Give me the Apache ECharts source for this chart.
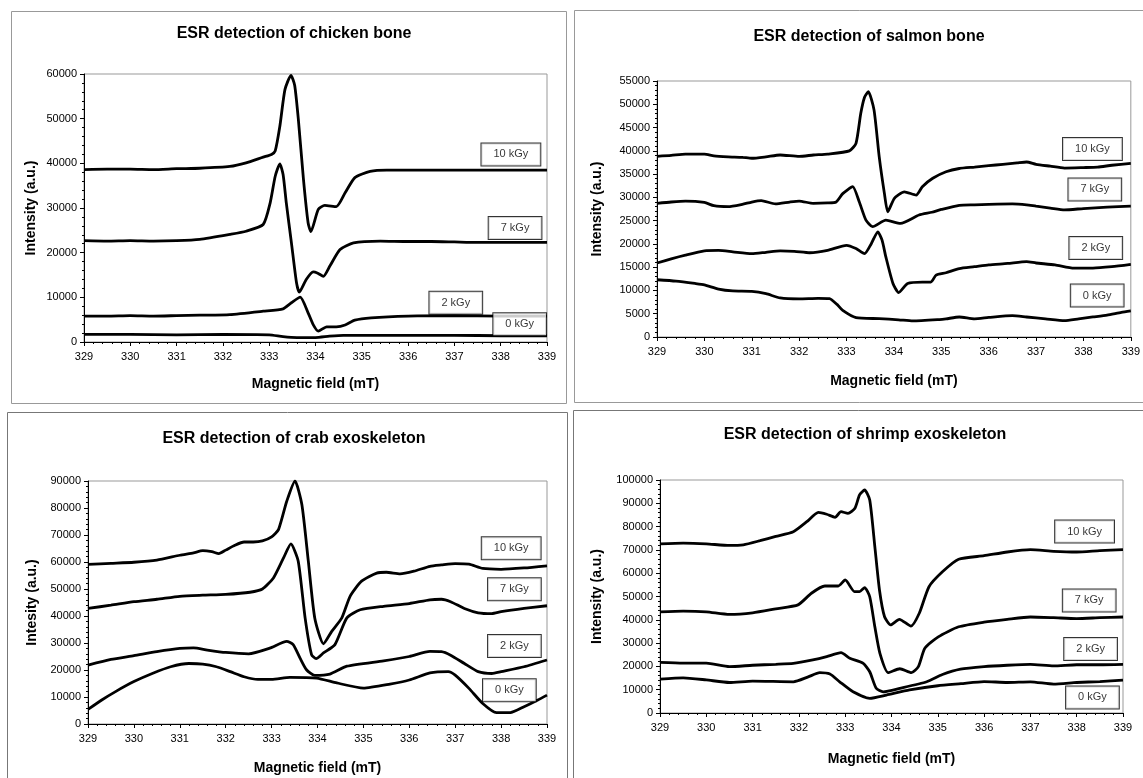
<!DOCTYPE html>
<html>
<head>
<meta charset="utf-8">
<title>ESR detection</title>
<script src="https://cdn.jsdelivr.net/npm/echarts@6/dist/echarts.min.js"></script>
<style>
  html, body { margin: 0; padding: 0; background: #fff; }
  #chart { width: 1143px; height: 778px; }
</style>
</head>
<body>
<div id="chart"></div>
<script>
// dose labels shown in the boxes
const doses = ['10 kGy', '7 kGy', '2 kGy', '0 kGy']

// chicken bone, [field mT, intensity]
const chicken10 = [[329,38600],[329.5,38700],[330,38700],[330.5,38600],[331,38800],[331.5,38900],[332.15,39300],[332.5,40100],[332.87,41400],[333.05,42000],[333.13,42800],[333.23,48300],[333.34,56500],[333.47,59700],[333.55,57500],[333.63,49800],[333.74,36400],[333.84,26700],[333.9,24700],[334.06,29700],[334.2,30600],[334.45,30300],[334.64,33400],[334.85,36800],[335.18,38200],[335.54,38500],[336,38500],[336.5,38500],[337,38500],[337.5,38500],[338,38500],[338.5,38500],[339,38500]]
const chicken7 = [[329,22700],[329.5,22600],[330,22700],[330.5,22600],[331,22700],[331.5,23000],[332.15,24100],[332.5,24800],[332.87,26300],[333.02,31100],[333.13,37100],[333.23,39900],[333.3,37500],[333.37,31100],[333.48,22200],[333.59,13250],[333.65,11150],[333.8,14000],[333.95,15700],[334.05,15400],[334.17,14700],[334.31,17000],[334.53,20700],[334.82,22200],[335.4,22600],[336,22500],[336.5,22500],[337,22400],[337.5,22300],[338,22300],[338.5,22300],[339,22300]]
const chicken2 = [[329,5800],[329.5,5800],[330,5900],[330.5,5800],[331,5900],[331.5,6000],[332.15,6150],[332.87,6900],[333.3,7430],[333.48,8780],[333.67,10030],[333.84,6530],[333.95,3900],[334.06,2420],[334.24,3400],[334.45,3400],[334.64,3800],[334.85,4880],[335.2,5400],[336,5800],[337,5900],[338,5800],[339,5800]]
const chicken0 = [[329,1700],[330,1700],[331,1600],[332,1700],[333,1600],[333.3,1200],[333.6,1000],[334,1000],[334.3,1300],[334.6,1500],[335,1500],[336,1500],[337,1500],[338,1400],[339,1400]]

// salmon bone
const salmon10 = [[329,38800],[329.3,39000],[329.6,39300],[330,39300],[330.2,38900],[330.5,38700],[330.8,38600],[331,38400],[331.3,38700],[331.6,39100],[332,38800],[332.3,39100],[332.6,39300],[333.06,40000],[333.2,41600],[333.3,48000],[333.38,51500],[333.46,52700],[333.58,48800],[333.69,38700],[333.8,30800],[333.87,26900],[334.01,29800],[334.22,31200],[334.47,30500],[334.6,32300],[334.82,34100],[335.1,35500],[335.38,36200],[335.7,36500],[336,36800],[336.3,37100],[336.6,37400],[336.8,37600],[337,37100],[337.3,36700],[337.6,36300],[338,36400],[338.3,36500],[338.6,36900],[339,37300]]
const salmon7 = [[329,28700],[329.3,29000],[329.6,29200],[330,28900],[330.2,28200],[330.5,28000],[330.8,28500],[331,29000],[331.2,29300],[331.5,28600],[331.8,29000],[332,29200],[332.3,28700],[332.6,28800],[332.78,29000],[332.92,30800],[333.13,32300],[333.27,29000],[333.41,25100],[333.55,23700],[333.83,25100],[334.14,24400],[334.53,26200],[334.8,26800],[335,27400],[335.38,28300],[335.7,28400],[336,28500],[336.5,28600],[336.8,28400],[337,28100],[337.3,27700],[337.6,27300],[338,27600],[338.5,27900],[339,28100]]
const salmon2 = [[329,15900],[329.3,16800],[329.6,17600],[330,18500],[330.3,18600],[330.6,18300],[331,17900],[331.3,18200],[331.6,18500],[331.9,18400],[332.22,18100],[332.6,18600],[333,19700],[333.2,19000],[333.38,17900],[333.52,20000],[333.66,22600],[333.75,20800],[333.83,17200],[333.98,11500],[334.1,9550],[334.29,11500],[334.6,11800],[334.78,11800],[334.89,13300],[335.1,13800],[335.38,14700],[335.7,15100],[336,15500],[336.4,15800],[336.8,16200],[337,15900],[337.4,15500],[337.8,14800],[338.2,14800],[338.6,15100],[339,15600]]
const salmon0 = [[329,12300],[329.4,12000],[329.8,11500],[330,11200],[330.3,10300],[330.6,9900],[331,9800],[331.3,9300],[331.6,8400],[332,8200],[332.4,8300],[332.64,8250],[332.8,7000],[332.92,5700],[333.2,4150],[333.69,3950],[334.1,3700],[334.4,3450],[334.96,3750],[335.1,3900],[335.38,4300],[335.7,3900],[336,4200],[336.5,4600],[336.8,4300],[337.2,3900],[337.6,3500],[337.9,3900],[338.2,4300],[338.5,4700],[338.8,5300],[339,5600]]

// crab exoskeleton
const crab10 = [[329,59100],[329.5,59500],[330,59900],[330.5,60700],[331,62500],[331.3,63400],[331.5,64200],[331.7,63800],[331.85,63100],[332,64400],[332.2,66200],[332.4,67400],[332.6,67400],[332.8,67800],[333,69300],[333.15,72000],[333.33,82500],[333.51,90000],[333.66,81200],[333.8,60300],[333.94,39300],[334.13,29700],[334.31,34300],[334.53,39300],[334.71,47300],[334.96,52900],[335.29,55900],[335.5,56200],[335.8,55600],[336.1,56600],[336.45,58400],[336.7,58900],[337,59400],[337.3,59200],[337.6,57600],[338,57300],[338.5,57800],[339,58600]]
const crab7 = [[329,42800],[329.5,44000],[330,45300],[330.5,46200],[331,47300],[331.5,47700],[332,48000],[332.53,48800],[332.8,50000],[333.04,54100],[333.26,61500],[333.42,66700],[333.58,60300],[333.73,39300],[333.87,25700],[333.97,24200],[334.13,26300],[334.38,29400],[334.64,39300],[334.93,42300],[335.44,43600],[336,44600],[336.45,46000],[336.7,46200],[336.9,45300],[337.2,42800],[337.5,41200],[337.8,40900],[338,41600],[338.5,42800],[339,43800]]
const crab2 = [[329,21800],[329.5,23900],[330,25300],[330.5,26800],[331,28000],[331.3,28200],[331.6,27400],[332,26500],[332.5,26000],[332.96,28100],[333.33,30600],[333.47,29400],[333.62,24400],[333.76,20100],[333.94,18000],[334.27,18500],[334.64,21400],[335.44,23400],[336,25000],[336.45,26900],[336.7,26800],[336.9,25500],[337.2,22400],[337.5,19400],[337.8,18700],[338,19400],[338.5,21200],[339,23700]]
const crab0 = [[329,5400],[329.3,8900],[329.6,12000],[330,15700],[330.4,18700],[330.8,21200],[331.2,22400],[331.5,22200],[331.8,21200],[332.1,19400],[332.4,17500],[332.7,16500],[333,16500],[333.4,17300],[333.98,17000],[334.42,15200],[335,13300],[335.58,14800],[336,16300],[336.45,18900],[336.85,19400],[337,18100],[337.3,13200],[337.6,7600],[337.9,4200],[338.2,4200],[338.5,6400],[338.8,8900],[339,10700]]

// shrimp exoskeleton
const shrimp10 = [[329,72600],[329.5,72900],[330,72600],[330.5,71900],[330.8,72200],[331.16,73950],[331.5,75800],[331.88,77800],[332.17,82100],[332.42,86100],[332.6,85300],[332.78,84000],[332.91,86400],[333.06,85700],[333.21,87900],[333.31,93600],[333.42,95700],[333.53,91400],[333.64,71400],[333.74,52800],[333.85,41300],[333.98,37800],[334.17,40200],[334.42,37300],[334.6,42800],[334.81,54200],[335.1,60600],[335.45,66000],[336,67500],[336.5,69100],[337,70100],[337.5,69400],[338,69100],[338.5,69700],[339,70100]]
const shrimp7 = [[329,43400],[329.5,43700],[330,43400],[330.5,42300],[331,43000],[331.5,44700],[331.98,46400],[332.27,51400],[332.56,54500],[332.85,54500],[333,57100],[333.2,52100],[333.31,52100],[333.42,53800],[333.53,49900],[333.64,37000],[333.75,25600],[333.93,17300],[334.18,19000],[334.43,17300],[334.58,19900],[334.72,27800],[335.01,32700],[335.45,37000],[336,39000],[336.5,40200],[337,41200],[337.5,40900],[338,40500],[338.5,40900],[339,41200]]
const shrimp2 = [[329,21700],[329.5,21400],[330,21400],[330.5,19900],[331,20500],[331.5,20900],[331.88,21300],[332.3,22800],[332.6,24200],[332.91,25900],[333.1,23500],[333.39,21300],[333.53,17700],[333.67,10600],[333.82,9100],[334.18,10600],[334.76,13400],[335.1,16500],[335.49,18800],[336,19900],[336.5,20500],[337,20900],[337.5,20200],[338,20700],[338.5,20700],[339,20900]]
const shrimp0 = [[329,14500],[329.5,15100],[330,14200],[330.5,13100],[331,13700],[331.88,13400],[332.2,15500],[332.45,17300],[332.67,16700],[332.88,13400],[333.17,9100],[333.53,6300],[333.89,7700],[334.39,9900],[335,11700],[335.5,12600],[336,13500],[336.5,13100],[337,13400],[337.5,12400],[338,13100],[338.5,13500],[339,14100]]

// where each dose box sits, [field mT, intensity]
const chickenBoxes = [[338.22,42000],[338.31,25500],[337.03,8800],[338.41,4000]]
const salmonBoxes = [[338.19,40400],[338.24,31700],[338.26,19100],[338.29,8900]]
const crabBoxes = [[338.22,65100],[338.29,49900],[338.29,28900],[338.18,12500]]
const shrimpBoxes = [[338.17,77900],[338.27,48300],[338.30,27500],[338.34,6700]]

const font = 'Liberation Sans, Arial, sans-serif'

const panels = [
  { title: 'ESR detection of chicken bone', yName: 'Intensity (a.u.)', max: 60000, step: 10000, curves: [chicken10, chicken7, chicken2, chicken0], boxes: chickenBoxes,
    grid: { left: 84, top: 74, width: 463, height: 268 }, titleX: 289, titleY: 21, yGap: 46, xGap: 35 },
  { title: 'ESR detection of salmon bone', yName: 'Intensity (a.u.)', max: 55000, step: 5000, curves: [salmon10, salmon7, salmon2, salmon0], boxes: salmonBoxes,
    grid: { left: 657, top: 81, width: 475, height: 256 }, titleX: 864, titleY: 24, yGap: 53, xGap: 37 },
  { title: 'ESR detection of crab exoskeleton', yName: 'Intesity (a.u.)', max: 90000, step: 10000, curves: [crab10, crab7, crab2, crab0], boxes: crabBoxes,
    grid: { left: 88, top: 481, width: 459, height: 243 }, titleX: 289, titleY: 426, yGap: 49, xGap: 37 },
  { title: 'ESR detection of shrimp exoskeleton', yName: 'Intensity (a.u.)', max: 100000, step: 10000, curves: [shrimp10, shrimp7, shrimp2, shrimp0], boxes: shrimpBoxes,
    grid: { left: 660, top: 480, width: 463, height: 233 }, titleX: 860, titleY: 422, yGap: 56, xGap: 39 }
]

const option = {
  backgroundColor: '#fff',
  animation: false,
  title: panels.map(p => ({
    text: p.title, left: p.titleX, top: p.titleY, textAlign: 'center',
    textStyle: { fontFamily: font, fontSize: 16, fontWeight: 'bold', color: '#000' }
  })),
  grid: panels.map(p => Object.assign({ show: true, borderColor: '#999', borderWidth: 1, backgroundColor: '#fff' }, p.grid)),
  xAxis: panels.map((p, i) => ({
    type: 'value', gridIndex: i, min: 329, max: 339, interval: 1,
    name: 'Magnetic field (mT)', nameLocation: 'middle', nameGap: p.xGap,
    nameTextStyle: { fontFamily: font, fontSize: 14, fontWeight: 'bold', color: '#000' },
    axisLine: { onZero: false, lineStyle: { color: '#000', width: 1 } },
    axisTick: { length: 4, lineStyle: { color: '#000' } },
    minorTick: { show: true, splitNumber: 5, length: 2, lineStyle: { color: '#000' } },
    axisLabel: { fontFamily: font, fontSize: 11, color: '#000', margin: 9, formatter: v => String(v) },
    splitLine: { show: false }
  })),
  yAxis: panels.map((p, i) => ({
    type: 'value', gridIndex: i, min: 0, max: p.max, interval: p.step,
    name: p.yName, nameLocation: 'middle', nameGap: p.yGap,
    nameTextStyle: { fontFamily: font, fontSize: 14, fontWeight: 'bold', color: '#000' },
    axisLine: { show: true, lineStyle: { color: '#000', width: 1 } },
    axisTick: { length: 4, lineStyle: { color: '#000' } },
    minorTick: { show: true, splitNumber: 5, length: 2, lineStyle: { color: '#000' } },
    axisLabel: { fontFamily: font, fontSize: 11, color: '#000', margin: 7, formatter: v => String(v) },
    splitLine: { show: false }
  })),
  graphic: [
    { type: 'rect', shape: { x: 11.5, y: 11.5, width: 555, height: 392 }, style: { fill: 'none', stroke: '#999', lineWidth: 1 }, silent: true, z: -10 },
    { type: 'rect', shape: { x: 574.5, y: 10.5, width: 580, height: 392 }, style: { fill: 'none', stroke: '#999', lineWidth: 1 }, silent: true, z: -10 },
    { type: 'rect', shape: { x: 7.5, y: 412.5, width: 560, height: 380 }, style: { fill: 'none', stroke: '#777', lineWidth: 1 }, silent: true, z: -10 },
    { type: 'rect', shape: { x: 573.5, y: 410.5, width: 580, height: 380 }, style: { fill: 'none', stroke: '#777', lineWidth: 1 }, silent: true, z: -10 }
  ],
  series: []
}

panels.forEach((p, i) => {
  p.curves.forEach((c, k) => {
    option.series.push({
      type: 'line', name: doses[k], xAxisIndex: i, yAxisIndex: i, data: c,
      showSymbol: false, smooth: 0.2,
      lineStyle: { color: '#000', width: 2.8 }
    })
  })
  // dose boxes
  option.series.push({
    type: 'scatter', xAxisIndex: i, yAxisIndex: i, z: 5,
    symbol: 'rect', symbolSize: 1, itemStyle: { color: 'rgba(0,0,0,0)' },
    data: p.boxes.map((b, k) => ({ value: b, name: doses[k] })),
    label: {
      show: true, position: 'inside', formatter: '{b}',
      fontFamily: font, fontSize: 11, color: '#000', lineHeight: 12,
      backgroundColor: '#fff', borderColor: '#000', borderWidth: 1, padding: [5, 12]
    }
  })
})

const chart = echarts.init(document.getElementById('chart'))
chart.setOption(option)
window.addEventListener('resize', () => chart.resize())
</script>
</body>
</html>
